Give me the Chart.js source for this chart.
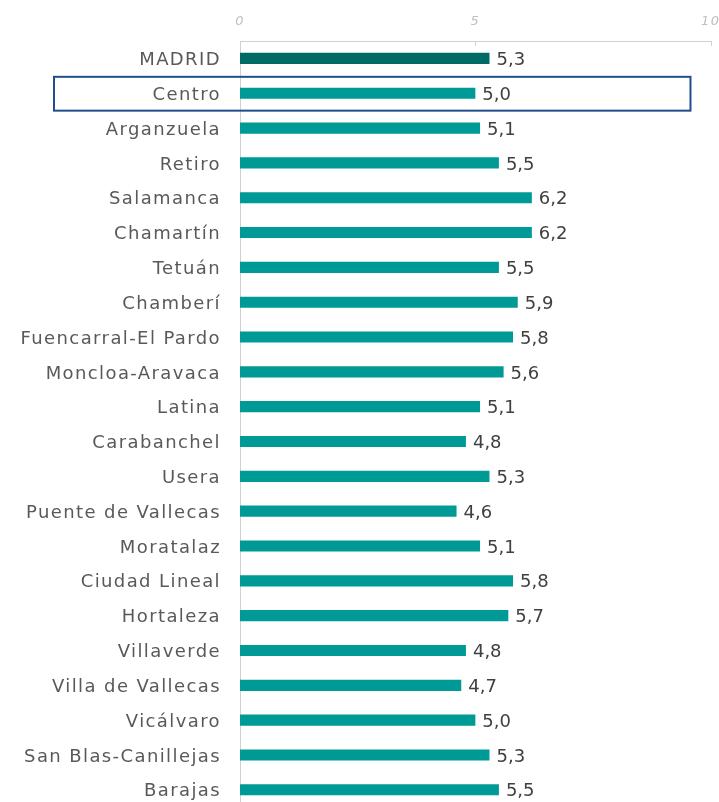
<!DOCTYPE html>
<html>
<head>
<meta charset="utf-8">
<script src="https://cdn.jsdelivr.net/npm/chart.js@4.4.0/dist/chart.umd.min.js"></script>
<style>
    html, body { margin: 0; padding: 0; background: #fff; overflow: hidden; }
    #chart { display: block; }
</style>
</head>
<body>
<canvas id="chart" width="731" height="837"></canvas>
<script>
    "use strict";

    // Datos
    var districts = ["MADRID", "Centro", "Arganzuela", "Retiro", "Salamanca", "Chamartín", "Tetuán",
        "Chamberí", "Fuencarral-El Pardo", "Moncloa-Aravaca", "Latina", "Carabanchel", "Usera",
        "Puente de Vallecas", "Moratalaz", "Ciudad Lineal", "Hortaleza", "Villaverde",
        "Villa de Vallecas", "Vicálvaro", "San Blas-Canillejas", "Barajas"];
    var values = [5.3, 5.0, 5.1, 5.5, 6.2, 6.2, 5.5, 5.9, 5.8, 5.6, 5.1, 4.8, 5.3, 4.6, 5.1, 5.8, 5.7,
        4.8, 4.7, 5.0, 5.3, 5.5];
    var xTicks = [0, 5, 10];
    var highlighted = "Centro";

    var FONT = "'DejaVu Sans', sans-serif";

    var barColors = districts.map(function (d) {
        return d === "MADRID" ? "#006b66" : "#009a96";
    });

    // Espaciado de letras para imitar la fuente ancha original
    var spacing = {
        id: "spacing",
        beforeDraw: function (chart) { chart.ctx.letterSpacing = "1.4px"; },
        afterDraw: function (chart) { chart.ctx.letterSpacing = "0px"; }
    };

    // Etiquetas de valor al final de cada barra
    var valueLabels = {
        id: "valueLabels",
        afterDatasetsDraw: function (chart) {
            var ctx = chart.ctx;
            var meta = chart.getDatasetMeta(0);
            ctx.save();
            ctx.font = "18px " + FONT;
            ctx.letterSpacing = "0px";
            ctx.fillStyle = "#404040";
            ctx.textAlign = "left";
            ctx.textBaseline = "middle";
            meta.data.forEach(function (bar, i) {
                var txt = values[i].toFixed(1).replace(".", ",");
                ctx.fillText(txt, bar.x + 7, bar.y + 2);
            });
            ctx.restore();
        }
    };

    // Marcas del eje superior y recuadro de Centro
    var decorations = {
        id: "decorations",
        afterDraw: function (chart) {
            var ctx = chart.ctx;
            var x = chart.scales.x;
            var y = chart.scales.y;
            var area = chart.chartArea;
            ctx.save();
            ctx.strokeStyle = "#d0d0d0";
            ctx.lineWidth = 1;
            xTicks.forEach(function (t) {
                var px = Math.round(x.getPixelForValue(t)) + 0.5;
                ctx.beginPath();
                ctx.moveTo(px, area.top);
                ctx.lineTo(px, area.top + 5);
                ctx.stroke();
            });

            var idx = districts.indexOf(highlighted);
            var cy = y.getPixelForValue(idx);
            var half = (y.getPixelForValue(1) - y.getPixelForValue(0)) / 2;
            var left = area.left - 186;
            ctx.strokeStyle = "#1f4e8c";
            ctx.lineWidth = 2;
            ctx.strokeRect(left, cy - half + 1, x.getPixelForValue(9.57) - left, half * 2 - 1);
            ctx.restore();
        }
    };

    new Chart(document.getElementById("chart").getContext("2d"), {
        type: "bar",
        data: {
            labels: districts,
            datasets: [{
                data: values,
                backgroundColor: barColors,
                barPercentage: 0.32,
                categoryPercentage: 1
            }]
        },
        options: {
            indexAxis: "y",
            responsive: false,
            animation: false,
            layout: { padding: { left: 0, right: 8, top: 0, bottom: 0 } },
            plugins: {
                legend: { display: false },
                tooltip: { enabled: false }
            },
            scales: {
                x: {
                    position: "top",
                    min: 0,
                    max: 10,
                    afterBuildTicks: function (scale) {
                        scale.ticks = xTicks.map(function (v) { return { value: v }; });
                    },
                    afterFit: function (scale) { scale.height = 41; },
                    grid: { display: false, drawTicks: false },
                    border: { display: true, color: "#d0d0d0", width: 1 },
                    ticks: {
                        padding: 12,
                        color: "#bfbfbf",
                        font: { family: FONT, size: 13, style: "italic" }
                    }
                },
                y: {
                    afterFit: function (scale) { scale.width = 240; },
                    grid: { display: false, drawTicks: false },
                    border: { display: true, color: "#d0d0d0", width: 1 },
                    ticks: {
                        padding: 19,
                        labelOffset: 2,
                        color: "#595959",
                        font: { family: FONT, size: 18 }
                    }
                }
            }
        },
        plugins: [spacing, valueLabels, decorations]
    });
</script>
</body>
</html>
